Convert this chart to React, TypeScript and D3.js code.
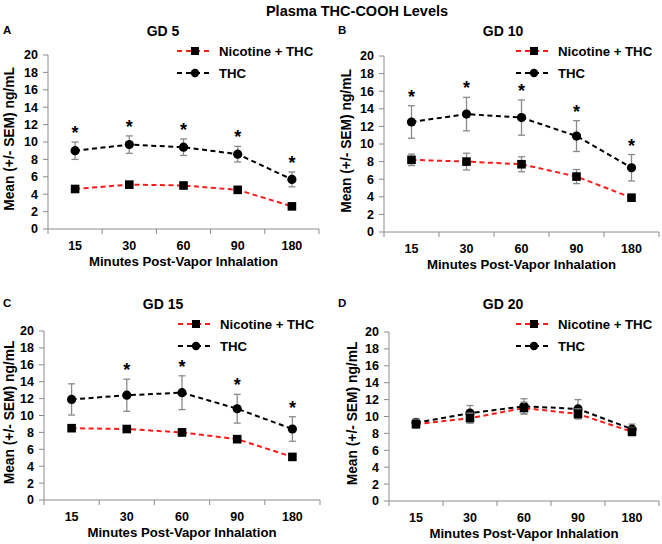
import React from 'react';
import * as d3 from 'd3';

// time points after vapor exposure (minutes)
const timepoints = ['15', '30', '60', '90', '180'];
const yTicks = [0, 2, 4, 6, 8, 10, 12, 14, 16, 18, 20];

// GD 5
const gd5Nic = [4.6, 5.1, 5.0, 4.5, 2.6];
const gd5NicSem = [0.3, 0.3, 0.3, 0.3, 0.25];
const gd5Thc = [9.0, 9.7, 9.4, 8.6, 5.7];
const gd5ThcSem = [1.0, 1.0, 0.95, 0.9, 0.85];
const gd5Sig = [true, true, true, true, true];

// GD 10
const gd10Nic = [8.2, 8.0, 7.7, 6.3, 3.9];
const gd10NicSem = [0.65, 0.95, 0.85, 0.8, 0.3];
const gd10Thc = [12.5, 13.4, 13.0, 10.9, 7.3];
const gd10ThcSem = [1.85, 1.9, 2.0, 1.75, 1.5];
const gd10Sig = [true, true, true, true, true];

// GD 15
const gd15Nic = [8.5, 8.4, 8.0, 7.2, 5.1];
const gd15NicSem = [0.3, 0.35, 0.45, 0.4, 0.35];
const gd15Thc = [11.9, 12.4, 12.7, 10.8, 8.4];
const gd15ThcSem = [1.85, 1.9, 2.0, 1.7, 1.45];
const gd15Sig = [false, true, true, true, true];

// GD 20
const gd20Nic = [9.1, 9.8, 11.0, 10.3, 8.2];
const gd20NicSem = [0.5, 0.6, 0.7, 0.6, 0.5];
const gd20Thc = [9.25, 10.4, 11.2, 10.9, 8.5];
const gd20ThcSem = [0.5, 0.9, 0.9, 1.1, 0.6];
const gd20Sig = [false, false, false, false, false];

const FONT = '"Liberation Sans", Arial, sans-serif';
const RED = '#ff1a1a';
const AXIS = '#8c8c8c';
const ERR = '#8a8a8a';

interface PanelProps {
  letter: string;
  title: string;
  nic: number[];
  nicSem: number[];
  thc: number[];
  thcSem: number[];
  sig: boolean[];
  x0: number;
  x1: number;
  yTop: number;
  yBottom: number;
  titleX: number;
  titleY: number;
  letterX: number;
  yLabelX: number;
  legendX: number;
  legendY: number;
}

const Panel: React.FC<PanelProps> = (p) => {
  const x = d3.scaleBand<string>().domain(timepoints).range([p.x0, p.x1]).padding(0);
  const cx = (i: number) => (x(timepoints[i]) as number) + x.bandwidth() / 2;
  const y = d3.scaleLinear().domain([0, 20]).range([p.yBottom, p.yTop]);
  const line = d3
    .line<number>()
    .x((_, i) => cx(i))
    .y((d) => y(d));

  const errBars = (vals: number[], sems: number[]) =>
    vals.map((v, i) => (
      <g key={i} stroke={ERR} strokeWidth={1.3}>
        <line x1={cx(i)} x2={cx(i)} y1={y(v - sems[i])} y2={y(v + sems[i])} />
        <line x1={cx(i) - 3.5} x2={cx(i) + 3.5} y1={y(v - sems[i])} y2={y(v - sems[i])} />
        <line x1={cx(i) - 3.5} x2={cx(i) + 3.5} y1={y(v + sems[i])} y2={y(v + sems[i])} />
      </g>
    ));

  const midY = (p.yTop + p.yBottom) / 2 - 3;
  const midX = (p.x0 + p.x1) / 2;

  return (
    <g fontFamily={FONT} fontWeight="bold">
      <text x={p.letterX} y={p.titleY - 2} fontSize={11.5}>
        {p.letter}
      </text>
      <text x={p.titleX} y={p.titleY} fontSize={14} textAnchor="middle">
        {p.title}
      </text>

      {/* axes */}
      <line x1={p.x0} x2={p.x0} y1={p.yTop} y2={p.yBottom} stroke={AXIS} />
      <line x1={p.x0} x2={p.x1} y1={p.yBottom} y2={p.yBottom} stroke={AXIS} />
      {yTicks.map((t) => (
        <g key={t}>
          <line x1={p.x0 - 5} x2={p.x0} y1={y(t)} y2={y(t)} stroke={AXIS} />
          <text x={p.x0 - 10} y={y(t) + 4.4} fontSize={12.5} textAnchor="end">
            {t}
          </text>
        </g>
      ))}
      {timepoints.map((t, i) => (
        <g key={t}>
          <line
            x1={x(t) as number}
            x2={x(t) as number}
            y1={p.yBottom}
            y2={p.yBottom + 5}
            stroke={AXIS}
          />
          <text x={cx(i)} y={p.yBottom + 21} fontSize={12.5} textAnchor="middle">
            {t}
          </text>
        </g>
      ))}
      <line x1={p.x1} x2={p.x1} y1={p.yBottom} y2={p.yBottom + 5} stroke={AXIS} />
      <text x={midX} y={p.yBottom + 37} fontSize={13.2} textAnchor="middle">
        Minutes Post-Vapor Inhalation
      </text>
      <text
        transform={`translate(${p.yLabelX},${midY}) rotate(-90)`}
        fontSize={13.8}
        textAnchor="middle"
      >
        Mean (+/- SEM) ng/mL
      </text>

      {/* THC series */}
      {errBars(p.thc, p.thcSem)}
      <path
        d={line(p.thc) ?? ''}
        fill="none"
        stroke="#000"
        strokeWidth={2}
        strokeDasharray="5,3.5"
      />
      {p.thc.map((v, i) => (
        <circle key={i} cx={cx(i)} cy={y(v)} r={4.6} fill="#000" />
      ))}

      {/* Nicotine + THC series */}
      {errBars(p.nic, p.nicSem)}
      <path
        d={line(p.nic) ?? ''}
        fill="none"
        stroke={RED}
        strokeWidth={2}
        strokeDasharray="5,3.5"
      />
      {p.nic.map((v, i) => (
        <rect key={i} x={cx(i) - 4.3} y={y(v) - 4.3} width={8.6} height={8.6} fill="#000" />
      ))}

      {/* significance stars */}
      {p.sig.map((s, i) =>
        s ? (
          <text
            key={i}
            x={cx(i)}
            y={y(p.thc[i] + p.thcSem[i]) - 3}
            fontSize={18}
            textAnchor="middle"
          >
            *
          </text>
        ) : null
      )}

      {/* legend */}
      <g>
        <line
          x1={p.legendX}
          x2={p.legendX + 36}
          y1={p.legendY}
          y2={p.legendY}
          stroke={RED}
          strokeWidth={2}
          strokeDasharray="5,4"
        />
        <rect x={p.legendX + 14} y={p.legendY - 4} width={8} height={8} fill="#000" />
        <text x={p.legendX + 42} y={p.legendY + 4.6} fontSize={13.2}>
          Nicotine + THC
        </text>
        <line
          x1={p.legendX}
          x2={p.legendX + 36}
          y1={p.legendY + 22}
          y2={p.legendY + 22}
          stroke="#000"
          strokeWidth={2}
          strokeDasharray="5,4"
        />
        <circle cx={p.legendX + 18} cy={p.legendY + 22} r={4.2} fill="#000" />
        <text x={p.legendX + 42} y={p.legendY + 26.6} fontSize={13.2}>
          THC
        </text>
      </g>
    </g>
  );
};

export default function App() {
  return (
    <div style={{ position: 'fixed', left: 0, top: 0 }}>
      <svg width={662} height={544} style={{ display: 'block', background: '#fff' }}>
        <text
          x={357}
          y={16}
          fontFamily={FONT}
          fontWeight="bold"
          fontSize={14.5}
          textAnchor="middle"
        >
          Plasma THC-COOH Levels
        </text>
        <Panel
          letter="A"
          title="GD 5"
          nic={gd5Nic}
          nicSem={gd5NicSem}
          thc={gd5Thc}
          thcSem={gd5ThcSem}
          sig={gd5Sig}
          x0={48}
          x1={319}
          yTop={55}
          yBottom={229}
          titleX={163}
          titleY={36}
          letterX={3}
          yLabelX={14}
          legendX={177}
          legendY={51}
        />
        <Panel
          letter="B"
          title="GD 10"
          nic={gd10Nic}
          nicSem={gd10NicSem}
          thc={gd10Thc}
          thcSem={gd10ThcSem}
          sig={gd10Sig}
          x0={384}
          x1={659}
          yTop={56}
          yBottom={232}
          titleX={503}
          titleY={36}
          letterX={338}
          yLabelX={351}
          legendX={516}
          legendY={51}
        />
        <Panel
          letter="C"
          title="GD 15"
          nic={gd15Nic}
          nicSem={gd15NicSem}
          thc={gd15Thc}
          thcSem={gd15ThcSem}
          sig={gd15Sig}
          x0={44}
          x1={320}
          yTop={331}
          yBottom={500}
          titleX={163}
          titleY={309}
          letterX={3}
          yLabelX={14}
          legendX={178}
          legendY={324}
        />
        <Panel
          letter="D"
          title="GD 20"
          nic={gd20Nic}
          nicSem={gd20NicSem}
          thc={gd20Thc}
          thcSem={gd20ThcSem}
          sig={gd20Sig}
          x0={389}
          x1={659}
          yTop={332}
          yBottom={501}
          titleX={503}
          titleY={309}
          letterX={338}
          yLabelX={357}
          legendX={516}
          legendY={324}
        />
      </svg>
    </div>
  );
}
